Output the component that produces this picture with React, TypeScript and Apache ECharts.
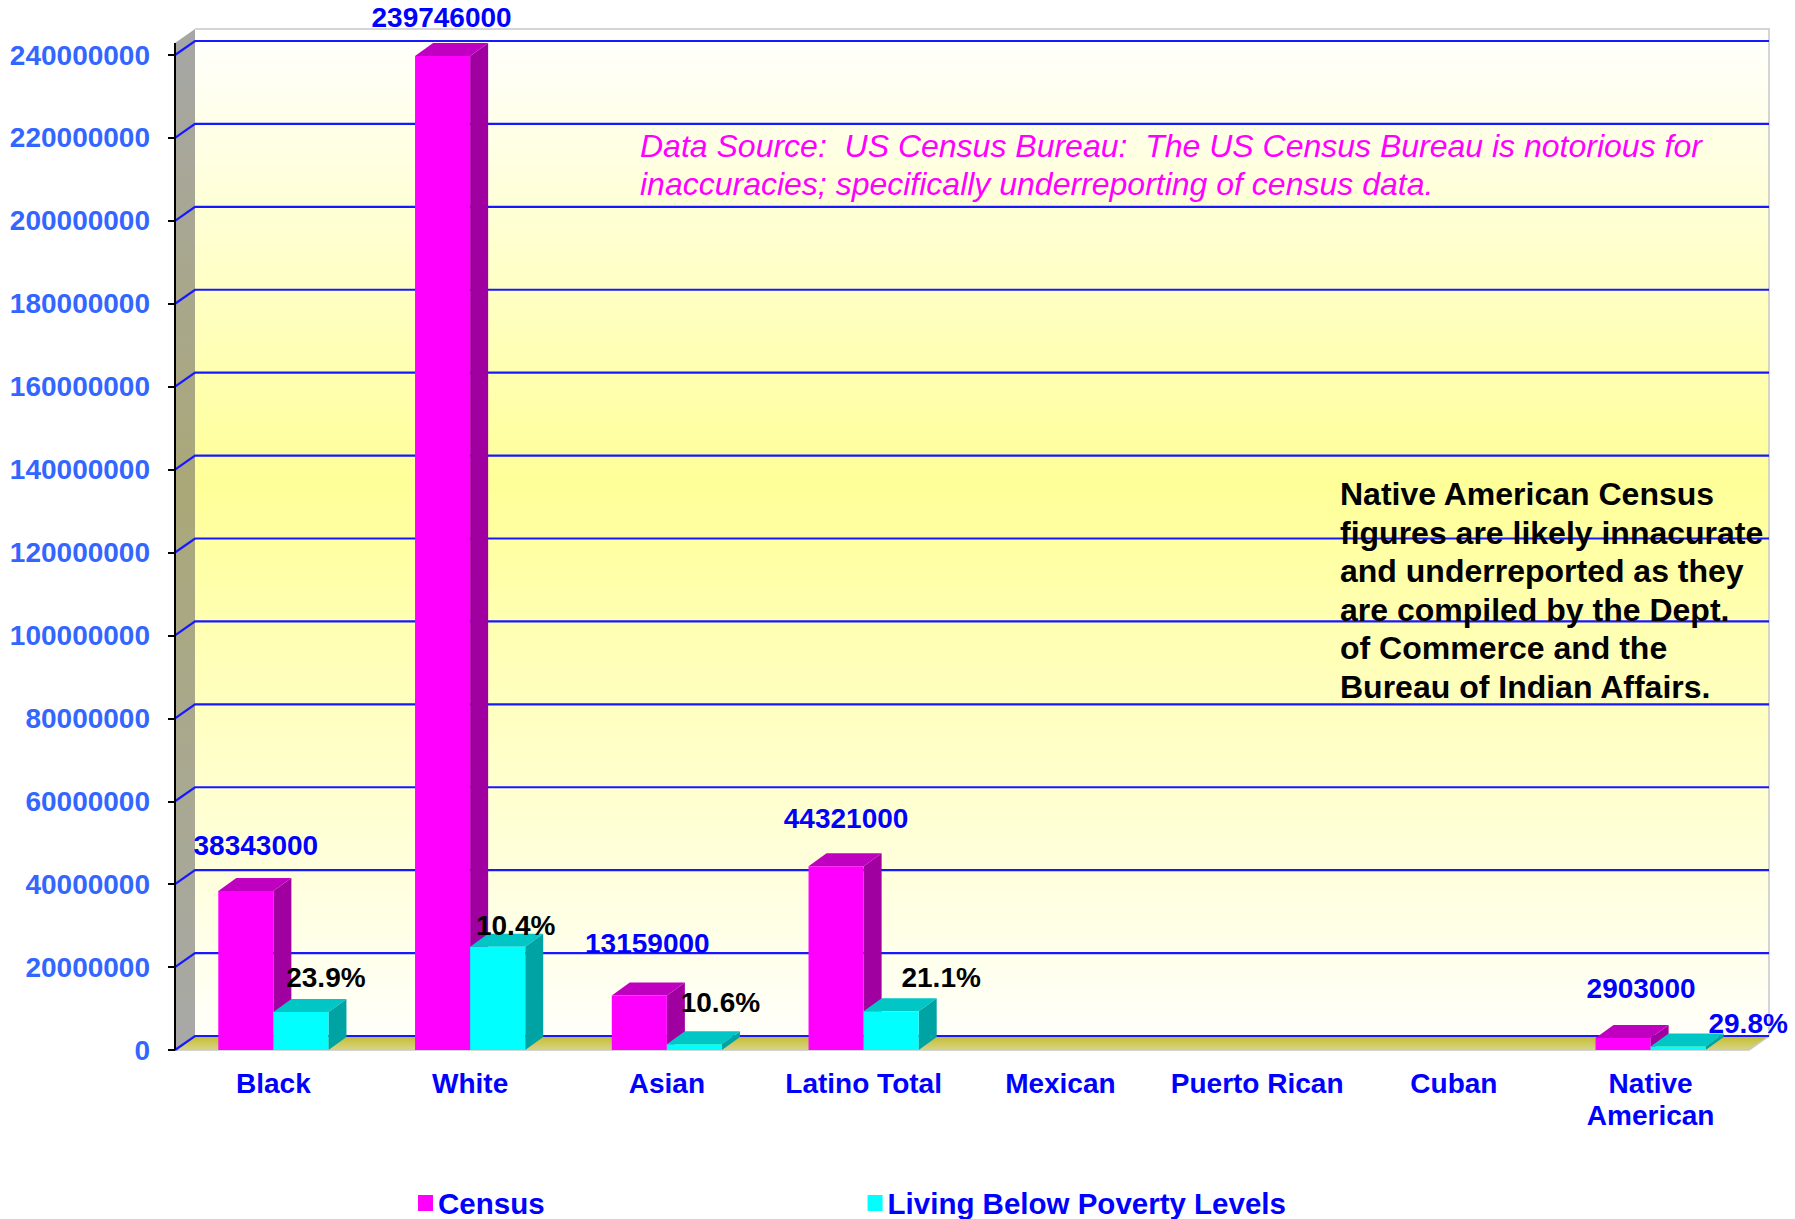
import React, { useEffect, useRef } from 'react';
import * as echarts from 'echarts';

// ---------- data ----------
const categories = ['Black', 'White', 'Asian', 'Latino Total', 'Mexican', 'Puerto Rican', 'Cuban', 'Native American'];
const censusValues = [38343000, 239746000, 13159000, 44321000, 0, 0, 0, 2903000];
const povertyValues = [9164000, 24934000, 1395000, 9352000, 0, 0, 0, 865000];
const povertyRates: (number | null)[] = [23.9, 10.4, 10.6, 21.1, null, null, null, 29.8];
const yTicks = [0, 20000000, 40000000, 60000000, 80000000, 100000000, 120000000, 140000000, 160000000, 180000000, 200000000, 220000000, 240000000];
const seriesNames = ['Census', 'Living Below Poverty Levels'];
const sourceNote = [
  'Data Source:  US Census Bureau:  The US Census Bureau is notorious for',
  'inaccuracies; specifically underreporting of census data.',
];
const nativeNote = [
  'Native American Census',
  'figures are likely innacurate',
  'and underreported as they',
  'are compiled by the Dept.',
  'of Commerce and the',
  'Bureau of Indian Affairs.',
];

// ---------- styles ----------
const FONT = '"Liberation Sans", Arial, Helvetica, sans-serif';
const GRID = { left: 175, right: 46, top: 55, bottom: 169 };
const WALL_DX = 20;
const WALL_DY = 14;
const WALL_EXTRA = 12;
const BAR_DX = 18;
const BAR_DY = 13;
const BAR_FRACTION = 0.28;
const palettes = [
  { front: '#FF00FF', top: '#C000C0', side: '#A000A0' },
  { front: '#00FFFF', top: '#00C6C6', side: '#00A3A3' },
];
const labelOffsets = [
  [[10, -46], [-1, -39], [8, -52], [10, -48], [0, 0], [0, 0], [0, 0], [18, -49]],
  [[25, -35], [18, -21], [26, -42], [50, -34], [0, 0], [0, 0], [0, 0], [70, -23]],
];
const labelColors = [
  ['#0000FF', '#0000FF', '#0000FF', '#0000FF', '#0000FF', '#0000FF', '#0000FF', '#0000FF'],
  ['#000000', '#000000', '#000000', '#000000', '#000000', '#000000', '#000000', '#0000FF'],
];

function labelText(side: number, idx: number, val: number): string {
  if (side === 0) return String(val);
  const r = povertyRates[idx];
  return r == null ? '' : r.toFixed(1) + '%';
}

function makeBarRender(side: number) {
  const pal = palettes[side];
  return (params: any, api: any) => {
    const idx = params.dataIndex;
    const val = api.value(1);
    if (!val) return { type: 'group', children: [] };
    const base = api.coord([api.value(0), 0]);
    const topP = api.coord([api.value(0), val]);
    const band = api.size([1, 0])[0];
    const w = band * BAR_FRACTION;
    const x0 = side === 0 ? base[0] - w : base[0];
    const x1 = x0 + w;
    const yb = base[1];
    const yt = topP[1];
    const off = labelOffsets[side][idx];
    return {
      type: 'group',
      children: [
        {
          type: 'polygon',
          shape: { points: [[x1, yb], [x1 + BAR_DX, yb - BAR_DY], [x1 + BAR_DX, yt - BAR_DY], [x1, yt]] },
          style: { fill: pal.side },
        },
        {
          type: 'polygon',
          shape: { points: [[x0, yt], [x0 + BAR_DX, yt - BAR_DY], [x1 + BAR_DX, yt - BAR_DY], [x1, yt]] },
          style: { fill: pal.top },
        },
        {
          type: 'rect',
          shape: { x: x0, y: yt, width: w, height: yb - yt },
          style: { fill: pal.front },
        },
        {
          type: 'text',
          z2: 10,
          x: (x0 + x1) / 2 + off[0],
          y: yt + off[1],
          style: {
            text: labelText(side, idx, val),
            fill: labelColors[side][idx],
            fontSize: 28,
            fontWeight: 'bold',
            fontFamily: FONT,
            align: 'center',
            verticalAlign: 'middle',
          },
        },
      ],
    };
  };
}

function wallRender(params: any, api: any) {
  const cs = params.coordSys;
  const xL = cs.x;
  const xR = cs.x + cs.width;
  const y0 = api.coord([0, 0])[1];
  const yTop = api.coord([0, yTicks[yTicks.length - 1]])[1] - WALL_EXTRA;
  const children: any[] = [];
  children.push({
    type: 'rect',
    shape: { x: xL + WALL_DX, y: yTop - WALL_DY, width: xR - xL, height: y0 - yTop },
    style: {
      fill: new echarts.graphic.LinearGradient(0, 0, 0, 1, [
        { offset: 0, color: '#FFFFFF' },
        { offset: 0.45, color: '#FFFF99' },
        { offset: 1, color: '#FFFFFA' },
      ]),
    },
  });
  children.push({
    type: 'polygon',
    shape: { points: [[xL, y0], [xL, yTop], [xL + WALL_DX, yTop - WALL_DY], [xL + WALL_DX, y0 - WALL_DY]] },
    style: {
      fill: new echarts.graphic.LinearGradient(0, 0, 0, 1, [
        { offset: 0, color: '#A6A6A6' },
        { offset: 0.45, color: '#AAA878' },
        { offset: 1, color: '#A8A8A8' },
      ]),
    },
  });
  children.push({
    type: 'polygon',
    shape: { points: [[xL, y0], [xL + WALL_DX, y0 - WALL_DY], [xR + WALL_DX, y0 - WALL_DY], [xR, y0]] },
    style: {
      fill: new echarts.graphic.LinearGradient(0, 0, 0, 1, [
        { offset: 0, color: '#C4BC2C' },
        { offset: 1, color: '#D8D488' },
      ]),
    },
  });
  children.push({
    type: 'polyline',
    shape: { points: [[xL, y0], [xR, y0], [xR + WALL_DX, y0 - WALL_DY], [xR + WALL_DX, yTop - WALL_DY], [xL + WALL_DX, yTop - WALL_DY]] },
    style: { stroke: '#C8C8C8', lineWidth: 1.5, fill: null },
  });
  yTicks.forEach((v) => {
    const y = api.coord([0, v])[1];
    children.push({
      type: 'polyline',
      shape: { points: [[xL, y], [xL + WALL_DX, y - WALL_DY], [xR + WALL_DX, y - WALL_DY]] },
      style: { stroke: '#1818FF', lineWidth: 2.2, fill: null },
    });
  });
  children.push({
    type: 'line',
    shape: { x1: xL, y1: y0, x2: xL, y2: yTop },
    style: { stroke: '#000000', lineWidth: 2 },
  });
  return { type: 'group', children };
}

export default function App() {
  const ref = useRef<HTMLDivElement>(null);
  useEffect(() => {
    const chart = echarts.init(ref.current!, null, { renderer: 'svg' });
    const option: any = {
      animation: false,
      backgroundColor: '#FFFFFF',
      color: [palettes[0].front, palettes[1].front],
      grid: GRID,
      legend: {
        left: 418,
        top: 1188,
        padding: 0,
        itemWidth: 15,
        itemHeight: 16,
        itemGap: 323,
        icon: 'rect',
        selectedMode: false,
        data: [
          { name: seriesNames[0], itemStyle: { color: palettes[0].front } },
          { name: seriesNames[1], itemStyle: { color: palettes[1].front } },
        ],
        textStyle: { color: '#0000FF', fontSize: 29.5, fontWeight: 'bold', fontFamily: FONT },
      },
      xAxis: {
        type: 'category',
        data: categories,
        axisLine: { show: false },
        axisTick: { show: false },
        axisLabel: {
          interval: 0,
          margin: 17,
          color: '#0000FF',
          fontSize: 28,
          fontWeight: 'bold',
          fontFamily: FONT,
          lineHeight: 32,
          formatter: (v: string) => (v === 'Native American' ? 'Native\nAmerican' : v),
        },
        splitLine: { show: false },
      },
      yAxis: {
        type: 'value',
        min: 0,
        max: yTicks[yTicks.length - 1],
        interval: yTicks[1] - yTicks[0],
        axisLine: { show: false },
        axisTick: { show: true, length: 7, lineStyle: { color: '#000000', width: 2 } },
        splitLine: { show: false },
        axisLabel: {
          margin: 25,
          color: '#3366FF',
          fontSize: 28,
          fontWeight: 'bold',
          fontFamily: FONT,
          formatter: (v: number) => String(v),
        },
      },
      series: [
        {
          type: 'custom',
          name: 'wall',
          silent: true,
          clip: false,
          z: 1,
          renderItem: wallRender,
          data: [[0, 0]],
        },
        {
          type: 'custom',
          name: seriesNames[0],
          silent: true,
          clip: false,
          z: 2,
          itemStyle: { color: palettes[0].front },
          renderItem: makeBarRender(0),
          data: categories.map((_, i) => [i, censusValues[i]]),
        },
        {
          type: 'custom',
          name: seriesNames[1],
          silent: true,
          clip: false,
          z: 3,
          itemStyle: { color: palettes[1].front },
          renderItem: makeBarRender(1),
          data: categories.map((_, i) => [i, povertyValues[i]]),
        },
      ],
      graphic: [
        {
          type: 'text',
          x: 640,
          y: 127,
          z: 100,
          style: {
            text: sourceNote.join('\n'),
            fill: '#FF00FF',
            fontSize: 32,
            fontStyle: 'italic',
            fontFamily: FONT,
            lineHeight: 38,
            align: 'left',
            verticalAlign: 'top',
          },
        },
        {
          type: 'text',
          x: 1340,
          y: 475,
          z: 100,
          style: {
            text: nativeNote.join('\n'),
            fill: '#000000',
            fontSize: 32,
            fontWeight: 'bold',
            fontFamily: FONT,
            lineHeight: 38.5,
            align: 'left',
            verticalAlign: 'top',
          },
        },
      ],
    };
    chart.setOption(option);
    return () => chart.dispose();
  }, []);
  return (
    <div
      ref={ref}
      style={{ position: 'fixed', left: 0, top: 0, width: 1795, height: 1219, background: '#FFFFFF' }}
    />
  );
}
